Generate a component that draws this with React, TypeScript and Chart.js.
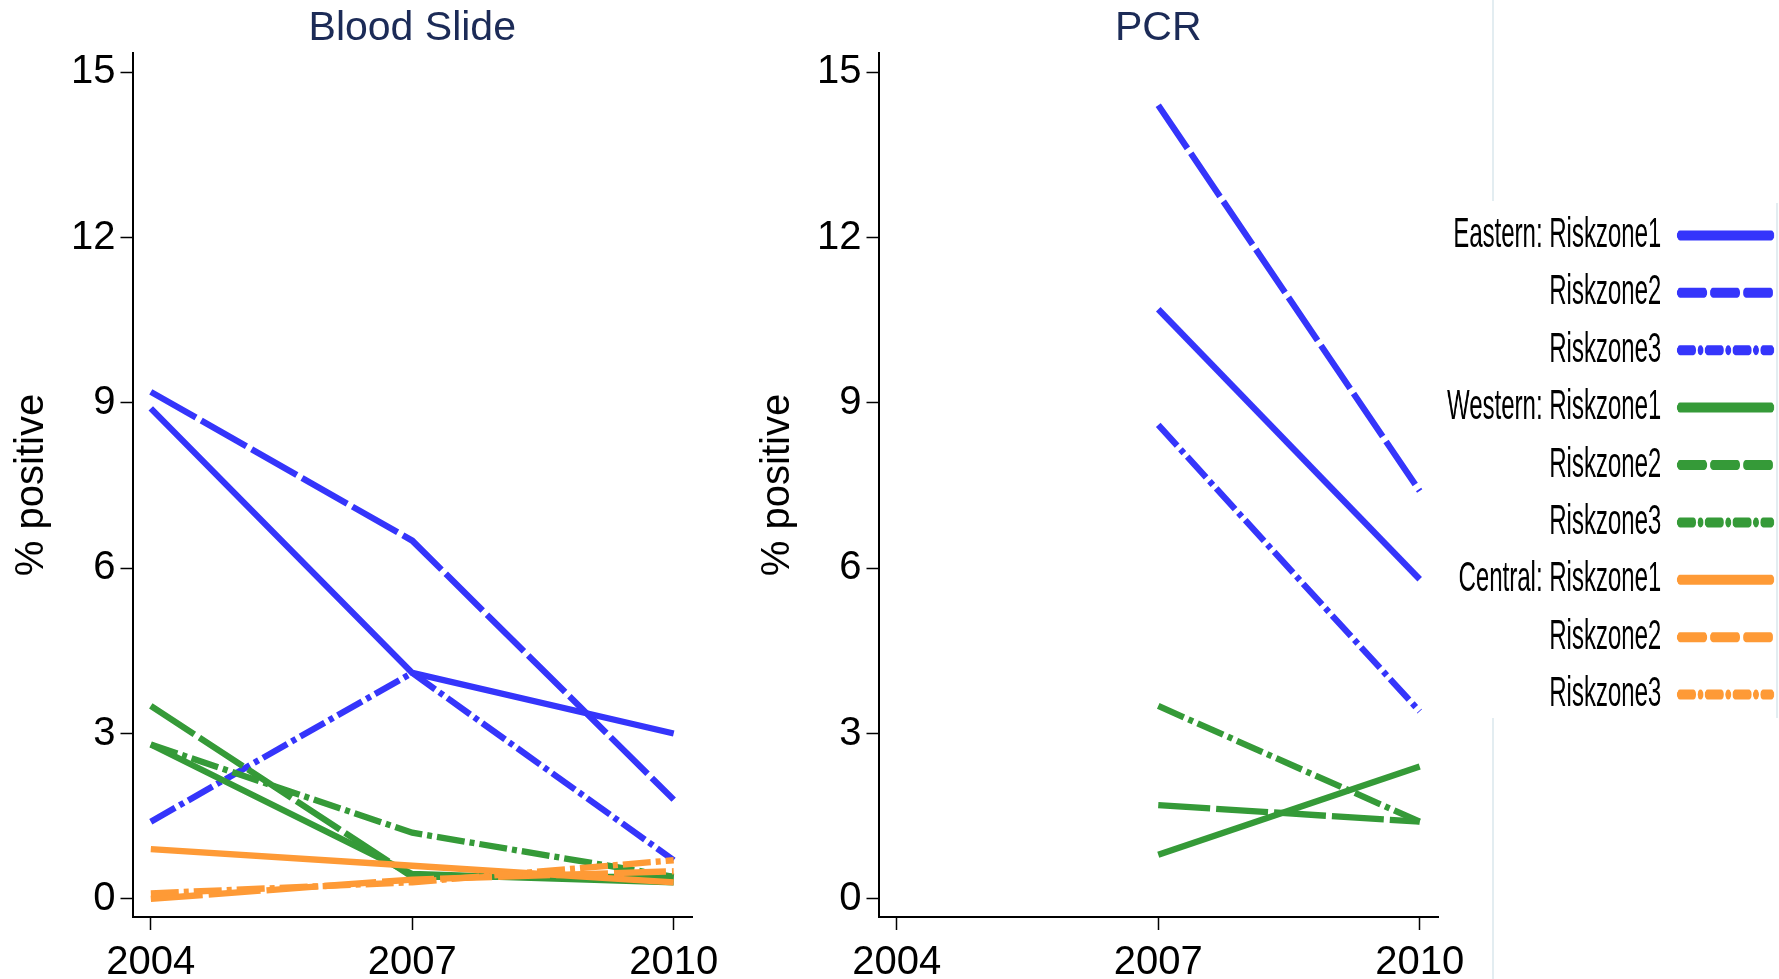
import React, { useEffect, useRef } from 'react';
import { Chart, registerables } from 'chart.js';

Chart.register(...registerables);

// ---- data -------------------------------------------------------------
const years = [2004, 2007, 2010];
const yTickValues = [0, 3, 6, 9, 12, 15];

const seriesLabels = [
  'Eastern: Riskzone1', 'Riskzone2', 'Riskzone3',
  'Western: Riskzone1', 'Riskzone2', 'Riskzone3',
  'Central: Riskzone1', 'Riskzone2', 'Riskzone3',
];

// Blood slide: % positive by year
const slideEastern1 = [8.9, 4.1, 3.0];
const slideEastern2 = [9.2, 6.5, 1.8];
const slideEastern3 = [1.4, 4.1, 0.7];
const slideWestern1 = [2.8, 0.45, 0.3];
const slideWestern2 = [3.5, 0.4, 0.4];
const slideWestern3 = [2.8, 1.2, 0.4];
const slideCentral1 = [0.9, 0.6, 0.3];
const slideCentral2 = [0.0, 0.35, 0.5];
const slideCentral3 = [0.1, 0.3, 0.7];

// PCR: % positive by year (no 2004 survey, no Central data)
const pcrEastern1 = [null, 10.7, 5.8];
const pcrEastern2 = [null, 14.4, 7.4];
const pcrEastern3 = [null, 8.6, 3.4];
const pcrWestern1 = [null, 0.8, 2.4];
const pcrWestern2 = [null, 1.7, 1.4];
const pcrWestern3 = [null, 3.5, 1.4];
const pcrCentral1 = [null, null, null];
const pcrCentral2 = [null, null, null];
const pcrCentral3 = [null, null, null];

const slideSeries = [
  slideEastern1, slideEastern2, slideEastern3,
  slideWestern1, slideWestern2, slideWestern3,
  slideCentral1, slideCentral2, slideCentral3,
];
const pcrSeries = [
  pcrEastern1, pcrEastern2, pcrEastern3,
  pcrWestern1, pcrWestern2, pcrWestern3,
  pcrCentral1, pcrCentral2, pcrCentral3,
];

// ---- styling ----------------------------------------------------------
const FONT = "'Liberation Sans', Arial, Helvetica, sans-serif";
const BLUE = '#3535fb';
const GREEN = '#359a38';
const ORANGE = '#fe9a36';
const TITLE_COLOR = '#1c2b57';
const seriesColors = [BLUE, BLUE, BLUE, GREEN, GREEN, GREEN, ORANGE, ORANGE, ORANGE];
const zoneDash: number[][] = [[], [52, 6], [28, 5, 5, 5]];

const LEGEND_FONT = 42;
const LEGEND_ROW = 57.4;
const LEGEND_PAD = LEGEND_ROW - LEGEND_FONT;
const LEGEND_CANVAS_W = 800;
const LEGEND_CANVAS_H = 560;

function makeDatasets(series: (number | null)[][]) {
  return series.map((data, i) => ({
    label: seriesLabels[i],
    data,
    borderColor: seriesColors[i],
    backgroundColor: seriesColors[i],
    borderWidth: 6.3,
    borderDash: zoneDash[i % 3],
    borderCapStyle: 'butt' as const,
    pointRadius: 0,
    fill: false,
    tension: 0,
    order: -i, // later series painted on top
  }));
}

function Panel({ title, series, left }: { title: string; series: (number | null)[][]; left: number }) {
  const ref = useRef<HTMLCanvasElement>(null);
  useEffect(() => {
    if (!ref.current) return;
    const tickFont = { family: FONT, size: 40 };
    const chart = new Chart(ref.current, {
      type: 'line',
      data: { labels: years, datasets: makeDatasets(series) as any },
      options: {
        responsive: false,
        animation: false,
        events: [],
        layout: { padding: { left: 0, right: 28, top: 0, bottom: 0 } },
        plugins: {
          legend: { display: false },
          tooltip: { enabled: false },
          title: {
            display: true,
            text: title,
            color: TITLE_COLOR,
            fullSize: false,
            font: { family: FONT, size: 41, weight: 'normal', lineHeight: 1 },
            padding: { top: 8, bottom: 4 },
          },
        },
        scales: {
          x: {
            type: 'linear',
            min: 2003.79,
            max: 2010.21,
            afterBuildTicks: (s: any) => { s.ticks = years.map((v) => ({ value: v })); },
            afterFit: (s: any) => { s.height = 62; s.paddingLeft = 0; s.paddingRight = 0; },
            ticks: { callback: (v: any) => String(v), font: tickFont, color: '#000', padding: 9, maxRotation: 0, autoSkip: false },
            grid: { display: true, drawOnChartArea: false, drawTicks: true, tickLength: 13, tickColor: '#000', tickWidth: 1.5 },
            border: { display: true, color: '#000', width: 2 },
          },
          y: {
            type: 'linear',
            min: -0.33,
            max: 15.35,
            afterBuildTicks: (s: any) => { s.ticks = yTickValues.map((v) => ({ value: v })); },
            afterFit: (s: any) => { s.width = 132.5; s.paddingTop = 0; s.paddingBottom = 0; },
            ticks: { callback: (v: any) => String(v), font: tickFont, color: '#000', padding: 5, autoSkip: false },
            grid: { display: true, drawOnChartArea: false, drawTicks: true, tickLength: 12, tickColor: '#000', tickWidth: 1.5 },
            border: { display: true, color: '#000', width: 2 },
            title: { display: true, text: '% positive', color: '#000', font: { family: FONT, size: 40 }, padding: { top: 8, bottom: 0 } },
          },
        },
      } as any,
    });
    return () => chart.destroy();
  }, [title, series]);
  return (
    <canvas ref={ref} width={720} height={979} style={{ position: 'absolute', left, top: 0, width: 720, height: 979 }} />
  );
}

// Legend text is drawn condensed: the legend canvas is squeezed horizontally.
function legendSqueeze(): number {
  const ctx = document.createElement('canvas').getContext('2d');
  if (!ctx) return 0.57;
  ctx.font = `${LEGEND_FONT}px ${FONT}`;
  return 112 / ctx.measureText('Riskzone2').width;
}

function Legend() {
  const ref = useRef<HTMLCanvasElement>(null);
  const s = legendSqueeze();
  const capW = 5; // half of the sample line width (round caps)
  const boxW = 97 / s - 2 * capW;
  const legendDash: number[][] = [
    [],
    [30 / s - 2 * capW, 3 / s + 2 * capW],
    [19 / s - 2 * capW, 1.5 / s + 2 * capW, 0.1, 1.5 / s + 2 * capW],
  ];
  useEffect(() => {
    if (!ref.current) return;
    const chart = new Chart(ref.current, {
      type: 'line',
      data: {
        labels: [],
        datasets: seriesLabels.map((label, i) => ({ label, data: [], borderColor: seriesColors[i], backgroundColor: seriesColors[i] })),
      },
      options: {
        responsive: false,
        animation: false,
        events: [],
        layout: { padding: 0 },
        scales: { x: { display: false }, y: { display: false } },
        plugins: {
          tooltip: { enabled: false },
          legend: {
            display: true,
            position: 'right',
            align: 'start',
            rtl: true,
            maxWidth: LEGEND_CANVAS_W,
            labels: {
              usePointStyle: true,
              pointStyle: 'line',
              pointStyleWidth: boxW,
              font: { family: FONT, size: LEGEND_FONT },
              color: '#000',
              padding: LEGEND_PAD,
              generateLabels: (c: any) =>
                c.data.datasets.map((ds: any, i: number) => ({
                  text: ds.label + ' ',
                  strokeStyle: seriesColors[i],
                  fillStyle: seriesColors[i],
                  fontColor: '#000',
                  lineWidth: 2 * capW,
                  lineCap: 'round',
                  lineDash: legendDash[i % 3],
                  pointStyle: 'line',
                  hidden: false,
                  datasetIndex: i,
                })),
            },
          },
        },
      } as any,
    });
    return () => chart.destroy();
  }, []);
  const rightEdge = 1771 + LEGEND_PAD * s;
  return (
    <div
      style={{
        position: 'absolute',
        left: rightEdge - LEGEND_CANVAS_W,
        top: 199,
        width: LEGEND_CANVAS_W,
        height: LEGEND_CANVAS_H,
        transform: `scaleX(${s})`,
        transformOrigin: 'right top',
      }}
    >
      <canvas ref={ref} width={LEGEND_CANVAS_W} height={LEGEND_CANVAS_H} style={{ width: LEGEND_CANVAS_W, height: LEGEND_CANVAS_H }} />
    </div>
  );
}

export default function App() {
  const faint = '#e3edf1';
  return (
    <div style={{ position: 'absolute', left: 0, top: 0, width: 1779, height: 979, overflow: 'hidden', background: '#fff' }}>
      <div style={{ position: 'absolute', left: 1492, top: 0, width: 2, height: 201, background: faint }} />
      <div style={{ position: 'absolute', left: 1492, top: 718, width: 2, height: 261, background: faint }} />
      <div style={{ position: 'absolute', left: 1776, top: 203, width: 2, height: 515, background: faint }} />
      <Panel title="Blood Slide" series={slideSeries} left={0} />
      <Panel title="PCR" series={pcrSeries} left={746} />
      <Legend />
    </div>
  );
}
